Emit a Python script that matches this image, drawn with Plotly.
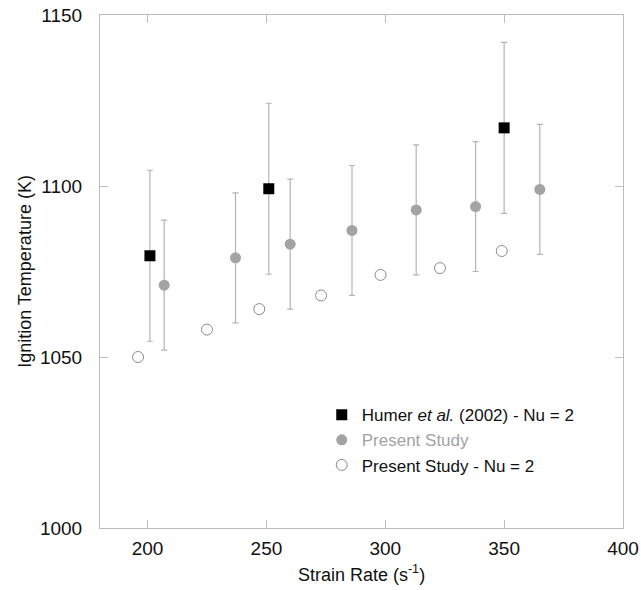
import plotly.graph_objects as go

# Humer et al. (2002), Nu = 2
humer_rate = [201, 251, 350]
humer_temp = [1079.6, 1099.2, 1117.0]
humer_err = [25, 25, 25]

# Present study (with error bars)
study_rate = [207, 237, 260, 286, 313, 338, 365]
study_temp = [1071, 1079, 1083, 1087, 1093, 1094, 1099]
study_err = [19, 19, 19, 19, 19, 19, 19]

# Present study, Nu = 2
nu2_rate = [196, 225, 247, 273, 298, 323, 349]
nu2_temp = [1050, 1058, 1064, 1068, 1074, 1076, 1081]

x_ticks = [200, 250, 300, 350, 400]
y_ticks = [1000, 1050, 1100, 1150]

FONT = "Liberation Sans, Arial, sans-serif"
AXIS_GREY = "#bdbdbd"
BAR_GREY = "#b4b4b4"
FILL_GREY = "#a3a3a3"

fig = go.Figure()

fig.add_trace(go.Scatter(
    x=humer_rate, y=humer_temp, mode="markers",
    name="Humer <i>et al.</i> (2002) - Nu = 2",
    marker=dict(symbol="square", size=11, color="black",
                line=dict(width=0)),
    error_y=dict(type="data", array=humer_err, visible=True,
                 color=BAR_GREY, thickness=1.2, width=3),
))

fig.add_trace(go.Scatter(
    x=study_rate, y=study_temp, mode="markers",
    name=f"<span style='color:{FILL_GREY}'>Present Study</span>",
    marker=dict(symbol="circle", size=11, color=FILL_GREY,
                line=dict(width=0)),
    error_y=dict(type="data", array=study_err, visible=True,
                 color=BAR_GREY, thickness=1.2, width=3),
))

fig.add_trace(go.Scatter(
    x=nu2_rate, y=nu2_temp, mode="markers",
    name="Present Study - Nu = 2",
    marker=dict(symbol="circle", size=11, color="white",
                line=dict(width=1, color="#8c8c8c")),
))

axis_common = dict(
    showline=True, linecolor=AXIS_GREY, linewidth=1, mirror="ticks",
    ticks="inside", ticklen=8, tickwidth=1, tickcolor=AXIS_GREY,
    showgrid=False, zeroline=False, automargin=False,
    tickfont=dict(family=FONT, size=19, color="#111111"),
)

fig.update_layout(
    width=641, height=590,
    margin=dict(l=100, r=18, t=15, b=62, autoexpand=False),
    paper_bgcolor="white", plot_bgcolor="white",
    font=dict(family=FONT, color="#111111"),
    showlegend=True,
    legend=dict(
        x=0.424, y=0.255, xanchor="left", yanchor="top",
        bgcolor="rgba(0,0,0,0)", borderwidth=0,
        font=dict(family=FONT, size=17, color="#111111"),
        tracegroupgap=0, itemsizing="trace",
    ),
    xaxis=dict(
        range=[180, 400], tickvals=x_ticks,
        title=dict(text="Strain Rate (s<sup>-1</sup>)",
                   font=dict(family=FONT, size=18), standoff=10),
        ticklabelstandoff=3,
        **axis_common,
    ),
    yaxis=dict(
        range=[1000, 1150], tickvals=y_ticks,
        title=dict(text="Ignition Temperature (K)",
                   font=dict(family=FONT, size=18), standoff=3),
        ticklabelstandoff=13,
        **axis_common,
    ),
)

fig.write_html("out.html")
